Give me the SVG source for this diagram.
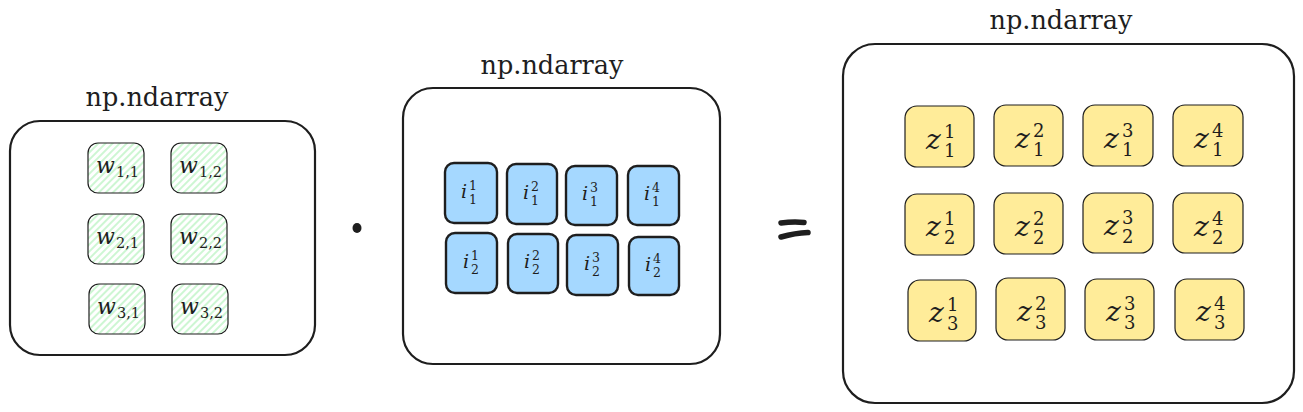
<svg xmlns="http://www.w3.org/2000/svg" width="1303" height="412" viewBox="0 0 1303 412">
<defs>
<pattern id="hatch" width="5" height="5" patternUnits="userSpaceOnUse" patternTransform="rotate(45)">
<rect width="5" height="5" fill="#ffffff"/>
<line x1="1" y1="0" x2="1" y2="5" stroke="#b2f2bb" stroke-width="1.3"/>
</pattern>
</defs>
<style>
.outer{fill:#ffffff;stroke:#1e1e1e;stroke-width:2.2}
text{font-family:'DejaVu Serif',serif;fill:#1e1e1e}
.title{font-size:25.5px;text-anchor:middle}
.g{fill:url(#hatch);stroke:#1e1e1e;stroke-width:1.2}
.b{fill:#a5d8ff;stroke:#1e1e1e;stroke-width:2.4}
.y{fill:#ffec99;stroke:#1e1e1e;stroke-width:1.2}
.var{font-style:italic}
.wv{font-size:22px}.ws{font-size:14.5px}
.iv{font-size:19px}.is{font-size:12.5px}
.zv{font-size:28px}.zs{font-size:18px}
</style>

<!-- Left matrix W -->
<g id="matrix-w">
<rect class="outer" x="10" y="121" width="305" height="234" rx="30"/>
<text class="title" x="157" y="106">np.ndarray</text>
<g id="w11"><rect class="g" x="88" y="143" width="56" height="50" rx="10"/><text x="96" y="173"><tspan class="var wv">w</tspan><tspan class="ws" x="116" y="177">1,1</tspan></text></g>
<g id="w12"><rect class="g" x="171" y="143" width="56" height="50" rx="10"/><text x="179" y="173"><tspan class="var wv">w</tspan><tspan class="ws" x="199" y="177">1,2</tspan></text></g>
<g id="w21"><rect class="g" x="88" y="214" width="56" height="50" rx="10"/><text x="96" y="244"><tspan class="var wv">w</tspan><tspan class="ws" x="116" y="248">2,1</tspan></text></g>
<g id="w22"><rect class="g" x="171" y="214" width="56" height="50" rx="10"/><text x="179" y="244"><tspan class="var wv">w</tspan><tspan class="ws" x="199" y="248">2,2</tspan></text></g>
<g id="w31"><rect class="g" x="89" y="284" width="56" height="50" rx="10"/><text x="97" y="314"><tspan class="var wv">w</tspan><tspan class="ws" x="117" y="318">3,1</tspan></text></g>
<g id="w32"><rect class="g" x="172" y="284" width="56" height="50" rx="10"/><text x="180" y="314"><tspan class="var wv">w</tspan><tspan class="ws" x="200" y="318">3,2</tspan></text></g>
</g>

<!-- Middle matrix I -->
<g id="matrix-i">
<rect class="outer" x="403" y="88" width="317" height="276" rx="30"/>
<text class="title" x="552" y="74">np.ndarray</text>
<g id="i11"><rect class="b" x="445" y="163" width="52" height="60" rx="9"/><text><tspan class="var iv" x="461" y="198">i</tspan><tspan class="is" x="469" y="190">1</tspan><tspan class="is" x="469" y="204">1</tspan></text></g>
<g id="i21"><rect class="b" x="507" y="164" width="50" height="60" rx="9"/><text><tspan class="var iv" x="523" y="199">i</tspan><tspan class="is" x="531" y="191">2</tspan><tspan class="is" x="531" y="205">1</tspan></text></g>
<g id="i31"><rect class="b" x="566" y="166" width="51" height="59" rx="9"/><text><tspan class="var iv" x="582" y="200">i</tspan><tspan class="is" x="590" y="192">3</tspan><tspan class="is" x="590" y="206">1</tspan></text></g>
<g id="i41"><rect class="b" x="628" y="166" width="51" height="59" rx="9"/><text><tspan class="var iv" x="644" y="200">i</tspan><tspan class="is" x="652" y="192">4</tspan><tspan class="is" x="652" y="206">1</tspan></text></g>
<g id="i12"><rect class="b" x="446" y="233" width="51" height="60" rx="9"/><text><tspan class="var iv" x="463" y="268">i</tspan><tspan class="is" x="471" y="260">1</tspan><tspan class="is" x="471" y="274">2</tspan></text></g>
<g id="i22"><rect class="b" x="508" y="234" width="50" height="59" rx="9"/><text><tspan class="var iv" x="524" y="268">i</tspan><tspan class="is" x="532" y="260">2</tspan><tspan class="is" x="532" y="274">2</tspan></text></g>
<g id="i32"><rect class="b" x="567" y="235" width="51" height="60" rx="9"/><text><tspan class="var iv" x="584" y="270">i</tspan><tspan class="is" x="592" y="262">3</tspan><tspan class="is" x="592" y="276">2</tspan></text></g>
<g id="i42"><rect class="b" x="629" y="237" width="50" height="58" rx="9"/><text><tspan class="var iv" x="645" y="271">i</tspan><tspan class="is" x="653" y="263">4</tspan><tspan class="is" x="653" y="277">2</tspan></text></g>
</g>

<!-- Right matrix Z -->
<g id="matrix-z">
<rect class="outer" x="843" y="44" width="451" height="359" rx="32"/>
<text class="title" x="1061" y="29">np.ndarray</text>
<g id="z11"><rect class="y" x="905" y="106" width="69" height="61" rx="12"/><text><tspan class="var zv" x="926" y="149">z</tspan><tspan class="zs" x="944" y="138">1</tspan><tspan class="zs" x="944" y="157">1</tspan></text></g>
<g id="z21"><rect class="y" x="994" y="105" width="69" height="61" rx="12"/><text><tspan class="var zv" x="1015" y="148">z</tspan><tspan class="zs" x="1033" y="137">2</tspan><tspan class="zs" x="1033" y="156">1</tspan></text></g>
<g id="z31"><rect class="y" x="1083" y="105" width="70" height="61" rx="12"/><text><tspan class="var zv" x="1104" y="148">z</tspan><tspan class="zs" x="1122" y="137">3</tspan><tspan class="zs" x="1122" y="156">1</tspan></text></g>
<g id="z41"><rect class="y" x="1173" y="105" width="70" height="61" rx="12"/><text><tspan class="var zv" x="1194" y="148">z</tspan><tspan class="zs" x="1212" y="137">4</tspan><tspan class="zs" x="1212" y="156">1</tspan></text></g>
<g id="z12"><rect class="y" x="905" y="194" width="69" height="61" rx="12"/><text><tspan class="var zv" x="926" y="236">z</tspan><tspan class="zs" x="944" y="225">1</tspan><tspan class="zs" x="944" y="244">2</tspan></text></g>
<g id="z22"><rect class="y" x="994" y="193" width="69" height="61" rx="12"/><text><tspan class="var zv" x="1015" y="236">z</tspan><tspan class="zs" x="1033" y="225">2</tspan><tspan class="zs" x="1033" y="244">2</tspan></text></g>
<g id="z32"><rect class="y" x="1083" y="193" width="70" height="60" rx="12"/><text><tspan class="var zv" x="1104" y="235">z</tspan><tspan class="zs" x="1122" y="224">3</tspan><tspan class="zs" x="1122" y="243">2</tspan></text></g>
<g id="z42"><rect class="y" x="1173" y="193" width="70" height="60" rx="12"/><text><tspan class="var zv" x="1194" y="236">z</tspan><tspan class="zs" x="1212" y="225">4</tspan><tspan class="zs" x="1212" y="244">2</tspan></text></g>
<g id="z13"><rect class="y" x="908" y="280" width="68" height="61" rx="12"/><text><tspan class="var zv" x="929" y="322">z</tspan><tspan class="zs" x="947" y="311">1</tspan><tspan class="zs" x="947" y="330">3</tspan></text></g>
<g id="z23"><rect class="y" x="996" y="278" width="69" height="62" rx="12"/><text><tspan class="var zv" x="1017" y="321">z</tspan><tspan class="zs" x="1035" y="310">2</tspan><tspan class="zs" x="1035" y="329">3</tspan></text></g>
<g id="z33"><rect class="y" x="1085" y="279" width="69" height="61" rx="12"/><text><tspan class="var zv" x="1106" y="321">z</tspan><tspan class="zs" x="1124" y="310">3</tspan><tspan class="zs" x="1124" y="329">3</tspan></text></g>
<g id="z43"><rect class="y" x="1175" y="279" width="69" height="61" rx="12"/><text><tspan class="var zv" x="1196" y="321">z</tspan><tspan class="zs" x="1214" y="310">4</tspan><tspan class="zs" x="1214" y="329">3</tspan></text></g>
</g>

<!-- Operators (the picture has no connectors) -->
<g id="connectors">
<g id="op-dot"><ellipse cx="357" cy="228" rx="4.5" ry="5" fill="#1e1e1e"/></g>
<g id="op-equals" stroke="#1e1e1e" stroke-width="5.5" stroke-linecap="round" fill="none">
<path d="M781 223 Q793 221.5 804 222.5"/>
<path d="M781 237 Q795 233 808 232.5"/>
</g>
</g>
</svg>
